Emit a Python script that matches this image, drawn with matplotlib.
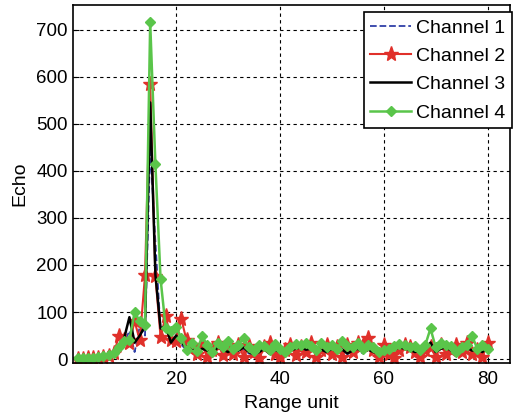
import matplotlib
matplotlib.use("Agg")
import matplotlib.pyplot as plt

plt.rcParams["font.family"] = ["Liberation Sans", "DejaVu Sans"]

# range units 1..80
range_unit = list(range(1, 81))

channel1 = [2, 2, 3, 3, 4, 5, 6, 8, 15, 35, 60, 15, 70, 50, 450, 250, 60, 75, 45, 60,
            30, 20, 15, 10, 25, 15, 8, 28, 15, 12, 20, 22, 20, 12, 8, 18, 20, 10, 25, 12,
            8, 20, 25, 22, 18, 25, 10, 22, 12, 20, 18, 22, 10, 20, 18, 12, 22, 12, 10, 18,
            15, 22, 20, 25, 18, 12, 20, 18, 30, 12, 25, 22, 15, 8, 20, 22, 20, 18, 12, 22]
channel2 = [1, 1, 2, 2, 3, 4, 6, 12, 50, 40, 35, 80, 40, 178, 585, 176, 47, 92, 40, 38,
            85, 40, 25, 10, 30, 5, 20, 35, 8, 25, 10, 30, 5, 28, 15, 2, 25, 35, 10, 5,
            20, 30, 8, 25, 15, 35, 5, 20, 30, 10, 25, 5, 30, 15, 35, 30, 45, 20, 5, 30,
            10, 2, 20, 30, 25, 15, 5, 20, 25, 5, 30, 10, 20, 30, 15, 35, 10, 20, 5, 35]
channel3 = [1, 1, 2, 2, 3, 3, 5, 7, 20, 45, 89, 35, 50, 70, 545, 180, 65, 70, 35, 50,
            35, 25, 20, 15, 22, 18, 12, 25, 20, 15, 22, 18, 25, 15, 10, 15, 22, 12, 20, 15,
            10, 18, 22, 25, 20, 22, 12, 20, 15, 22, 15, 20, 12, 18, 22, 15, 20, 15, 12, 15,
            18, 20, 25, 22, 20, 15, 18, 20, 35, 15, 22, 25, 18, 10, 22, 25, 18, 20, 15, 25]
channel4 = [2, 2, 3, 3, 4, 6, 8, 12, 25, 38, 40, 100, 80, 72, 715, 415, 170, 65, 60, 68,
            45, 20, 35, 18, 48, 30, 15, 35, 25, 38, 22, 30, 45, 25, 18, 30, 28, 20, 32, 22,
            15, 25, 32, 30, 35, 28, 20, 35, 25, 30, 22, 38, 28, 25, 35, 22, 30, 25, 15, 20,
            22, 28, 32, 30, 25, 28, 20, 30, 65, 25, 35, 30, 28, 15, 25, 30, 50, 22, 30, 22]

fig = plt.figure(figsize=(5.13, 4.19), dpi=100)
ax = fig.add_axes([0.142, 0.134, 0.852, 0.854])

ax.plot(range_unit, channel1, ls="--", color="#3040a8", lw=1.3, label="Channel 1")
ax.plot(range_unit, channel2, ls="-", color="#e0302a", lw=1.5, marker="*",
        ms=11, label="Channel 2")
ax.plot(range_unit, channel3, ls="-", color="black", lw=1.8, label="Channel 3")
ax.plot(range_unit, channel4, ls="-", color="#5ac54a", lw=1.8, marker="D",
        ms=5, label="Channel 4")

ax.set_xlim(0.1, 84.3)
ax.set_ylim(-8, 752)
ax.set_xticks([20, 40, 60, 80])
ax.set_yticks(range(0, 701, 100))
ax.grid(True, ls=(0, (3, 3)), color="black", lw=0.8)
ax.tick_params(labelsize=13.5, direction="in", length=4)
ax.tick_params(axis="x", pad=6)
for s in ax.spines.values():
    s.set_linewidth(1.2)

ax.set_xlabel("Range unit", fontsize=14, labelpad=5)
ax.set_ylabel("Echo", fontsize=14, labelpad=6)

leg = ax.legend(loc="upper right", bbox_to_anchor=(1.005, 0.98), fontsize=14,
                fancybox=False, framealpha=1, edgecolor="black", borderpad=0.35,
                labelspacing=0.55, handlelength=2.1, handletextpad=0.25,
                borderaxespad=0)
leg.get_frame().set_linewidth(1.2)

fig.savefig("out.png", dpi=100)
